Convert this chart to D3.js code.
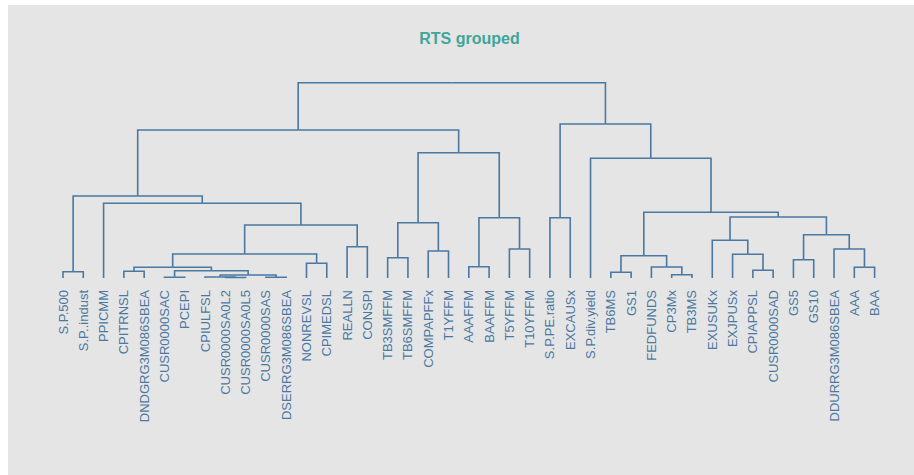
<!DOCTYPE html>
<html>
<head>
<meta charset="utf-8">
<script src="https://cdn.jsdelivr.net/npm/d3@7"></script>
<style>
  body { margin: 0; background: #fff; }
  svg { display: block; }
</style>
</head>
<body>
<div id="chart"></div>
<script>
// leaf labels, in plotting order
const labels = ["S.P.500", "S.P..indust", "PPICMM", "CPITRNSL", "DNDGRG3M086SBEA",
  "CUSR0000SAC", "PCEPI", "CPIULFSL", "CUSR0000SA0L2", "CUSR0000SA0L5",
  "CUSR0000SAS", "DSERRG3M086SBEA", "NONREVSL", "CPIMEDSL", "REALLN", "CONSPI",
  "TB3SMFFM", "TB6SMFFM", "COMPAPFFx", "T1YFFM", "AAAFFM", "BAAFFM", "T5YFFM",
  "T10YFFM", "S.P.PE.ratio", "EXCAUSx", "S.P.div.yield", "TB6MS", "GS1",
  "FEDFUNDS", "CP3Mx", "TB3MS", "EXUSUKx", "EXJPUSx", "CPIAPPSL", "CUSR0000SAD",
  "GS5", "GS10", "DDURRG3M086SBEA", "AAA", "BAA"]

// hclust style merge table: negative = leaf index, positive = earlier merge step
const merges = [
  [-9, -10], [-6, -7], [-11, -12], [-8, 1], [4, 3], [-31, -32], [-28, -29],
  [-1, -2], [-4, -5], [2, 5], [-35, -36], [9, 10], [-40, -41], [-30, 6],
  [-21, -22], [-13, -14], [-37, -38], [-17, -18], [7, 14], [-34, 11], [12, 16],
  [-19, -20], [-23, -24], [-39, 13], [-15, -16], [-33, 20], [17, 24], [21, 25],
  [18, 22], [15, 23], [-25, -26], [26, 27], [19, 32], [-3, 28], [8, 34],
  [-27, 33], [29, 30], [35, 37], [31, 36], [38, 39]]

const heights = [0.5, 0.7, 0.7, 1.0, 3.0, 3.3, 5.7, 6.3, 6.7, 7.3, 7.7, 10.7,
  10.7, 11.0, 11.3, 14.7, 18.3, 20.3, 22.3, 23.7, 24.0, 27.0, 29.0, 29.0, 31.3,
  37.7, 43.3, 53.0, 55.3, 60.3, 60.3, 61.0, 65.7, 74.7, 82.0, 119.7, 125.3,
  148.0, 154.0, 195.3]

const width = 914, height = 475
const n = labels.length

// turn merge table into nested object
const steps = []
function ref(i) {
  return i < 0 ? {name: labels[-i - 1], h: 0} : steps[i - 1]
}
merges.forEach(function(m, i) {
  steps.push({h: heights[i], children: [ref(m[0]), ref(m[1])]})
})
const tree = steps[steps.length - 1]

const root = d3.hierarchy(tree)
// leaves land on 0.5, 1.5, ... n-0.5
d3.cluster().size([n, 1]).separation(() => 1)(root)

const x = d3.scaleLinear()
  .domain([0.5, n - 0.5])
  .range([63, 874.6])

const y = d3.scaleLinear()
  .domain([0, d3.max(heights)])
  .range([278, 82.7])

const svg = d3.select("#chart").append("svg")
  .attr("width", width)
  .attr("height", height)

svg.append("rect")
  .attr("x", 8)
  .attr("y", 5)
  .attr("width", width - 8)
  .attr("height", height - 5)
  .attr("fill", "#e5e5e5")

svg.append("text")
  .attr("x", 469.5)
  .attr("y", 43.5)
  .attr("text-anchor", "middle")
  .style("font-family", "Liberation Sans, Arial, sans-serif")
  .style("font-weight", "bold")
  .style("font-size", "16px")
  .attr("fill", "#3fa69a")
  .text("RTS grouped")

const g = svg.append("g")

// elbow links: horizontal at parent height, vertical down to child
g.append("g")
  .selectAll("path")
  .data(root.links())
  .enter()
  .append("path")
  .attr("d", function(d) {
    return "M" + x(d.source.x) + "," + y(d.source.data.h) +
      "H" + x(d.target.x) + "V" + y(d.target.data.h)
  })
  .attr("fill", "none")
  .attr("stroke", "#4a78a2")
  .attr("stroke-width", 1.6)

g.append("g")
  .selectAll("text")
  .data(root.leaves())
  .enter()
  .append("text")
  .attr("transform", d => "translate(" + (x(d.x) + 4.5) + "," + 290 + ") rotate(-90)")
  .attr("text-anchor", "end")
  .style("font-family", "Liberation Sans, Arial, sans-serif")
  .style("font-size", "13px")
  .attr("fill", "#4a78a2")
  .text(d => d.data.name)
</script>
</body>
</html>
